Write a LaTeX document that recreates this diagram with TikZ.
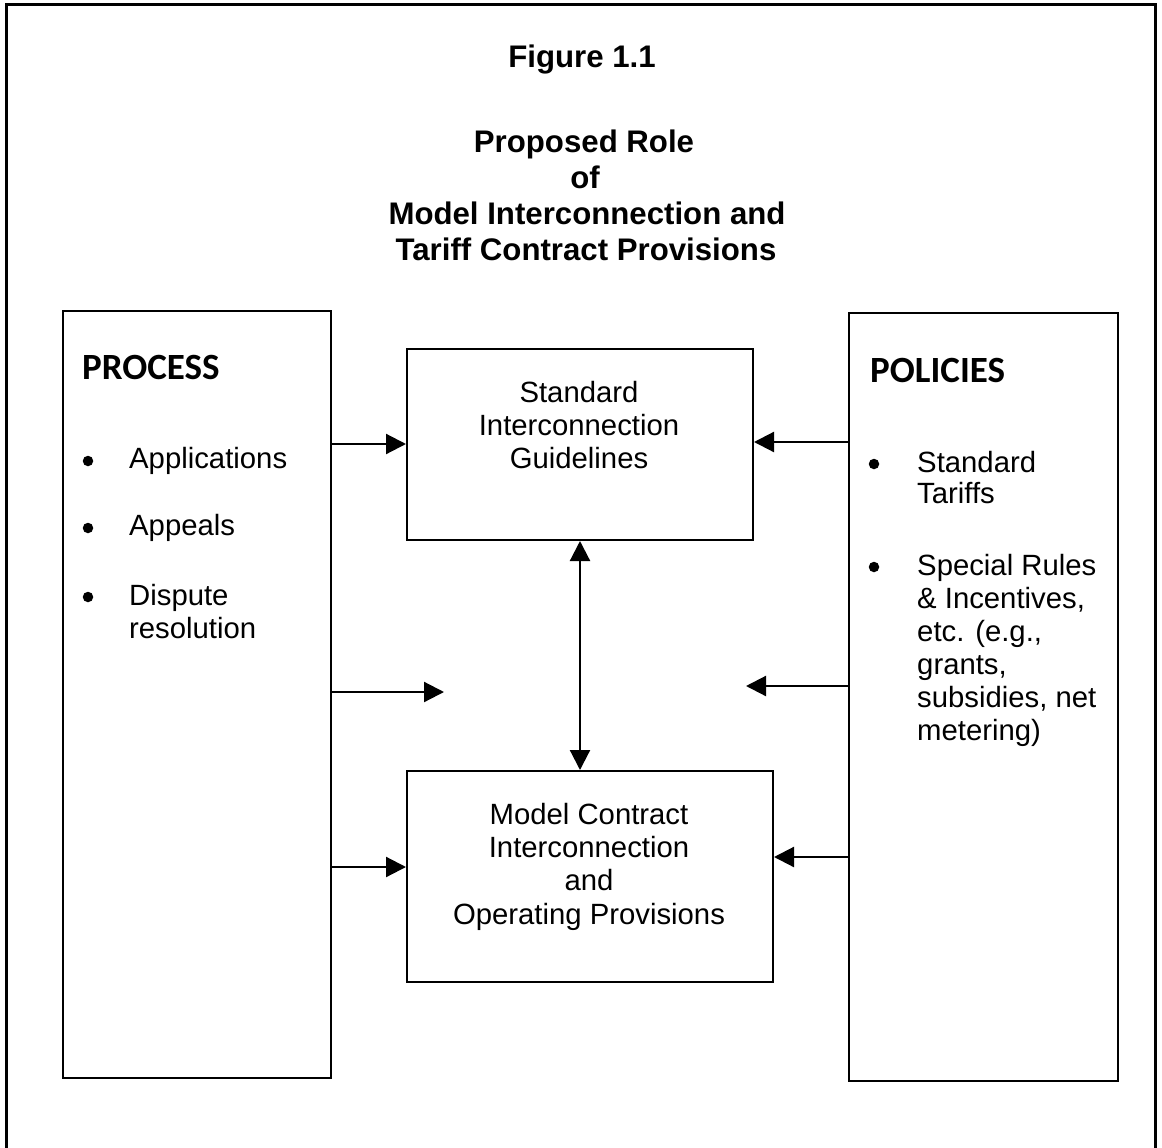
\documentclass[tikz,border=0pt]{standalone}
\usepackage{fontspec}
\setmainfont{Liberation Sans}
\newfontfamily\headfont{Carlito}
\usetikzlibrary{arrows.meta}
\begin{document}
\begin{tikzpicture}[x=1pt,y=-1pt,
  box/.style={draw, line width=2pt, inner sep=0pt, anchor=north west},
  body/.style={font=\fontsize{29.3}{33}\selectfont, inner sep=0pt, anchor=base},
  bodyl/.style={body, anchor=base west},
  ttl/.style={font=\fontsize{31.2}{36}\selectfont\bfseries, inner sep=0pt, anchor=base},
  head/.style={font=\headfont\fontsize{37}{44}\selectfont\bfseries, inner sep=0pt, anchor=base west},
  dot/.style={circle, fill, inner sep=0pt, minimum size=10.5pt},
  arr/.style={line width=2.2pt, -{Triangle[length=20pt,width=20pt]}},
  darr/.style={line width=2.2pt, {Triangle[length=20pt,width=20pt]}-{Triangle[length=20pt,width=20pt]}}]
\useasboundingbox (0,0) rectangle (1162,1148);
% outer frame
\draw[line width=3pt] (6,1150) -- (6,5) -- (1155,5) -- (1155,1150);
% titles
\node[ttl] (fig) at (582,67) {Figure 1.1};
\node[ttl] (t1) at (584,152) {Proposed Role};
\node[ttl] (t2) at (585,188) {of};
\node[ttl] (t3) at (587,224) {Model Interconnection and};
\node[ttl] (t4) at (586,260) {Tariff Contract Provisions};
% boxes
\node[box, minimum width=268pt, minimum height=767pt] (process) at (62,310) {};
\node[box, minimum width=269pt, minimum height=768pt] (policies) at (848,312) {};
\node[box, minimum width=346pt, minimum height=191pt] (sig) at (406,348) {};
\node[box, minimum width=366pt, minimum height=211pt] (mcp) at (406,770) {};
% process contents
\node[head] (ph) at (82,379) {PROCESS};
\node[dot] (pb1) at (88,461) {};
\node[dot] (pb2) at (88,528) {};
\node[dot] (pb3) at (88,597) {};
\node[bodyl] (p1) at (129,468) {Applications};
\node[bodyl] (p2) at (129,535) {Appeals};
\node[bodyl] (p3) at (129,605) {Dispute};
\node[bodyl] (p4) at (129,638) {resolution};
% policies contents
\node[head] (qh) at (870,382) {POLICIES};
\node[dot] (qb1) at (874,464) {};
\node[dot] (qb2) at (874,567) {};
\node[bodyl] (q1) at (917,472) {Standard};
\node[bodyl] (q2) at (917,503) {Tariffs};
\node[bodyl] (q3) at (917,575) {Special Rules};
\node[bodyl] (q4) at (917,608) {\& Incentives,};
\node[bodyl] (q5) at (917,641) {etc. (e.g.,};
\node[bodyl] (q6) at (917,674) {grants,};
\node[bodyl] (q7) at (917,707) {subsidies, net};
\node[bodyl] (q8) at (917,740) {metering)};
% middle box texts
\node[body] (s1) at (579,402) {Standard};
\node[body] (s2) at (579,435) {Interconnection};
\node[body] (s3) at (579,468) {Guidelines};
\node[body] (m1) at (589,824) {Model Contract};
\node[body] (m2) at (589,857) {Interconnection};
\node[body] (m3) at (589,890) {and};
\node[body] (m4) at (589,924) {Operating Provisions};
% free arrow ends
\coordinate (lfree) at (444,692);
\coordinate (rfree) at (746,686);
% connectors
\draw[arr] (process.east |- 0,444) -- (sig.west |- 0,444);
\draw[arr] (process.east |- lfree) -- (lfree);
\draw[arr] (process.east |- 0,867) -- (mcp.west |- 0,867);
\draw[arr] (policies.west |- 0,442) -- (sig.east |- 0,442);
\draw[arr] (policies.west |- rfree) -- (rfree);
\draw[arr] (policies.west |- 0,857) -- (mcp.east |- 0,857);
\draw[darr] (sig.south) -- (sig.south |- mcp.north);
\end{tikzpicture}
\end{document}
